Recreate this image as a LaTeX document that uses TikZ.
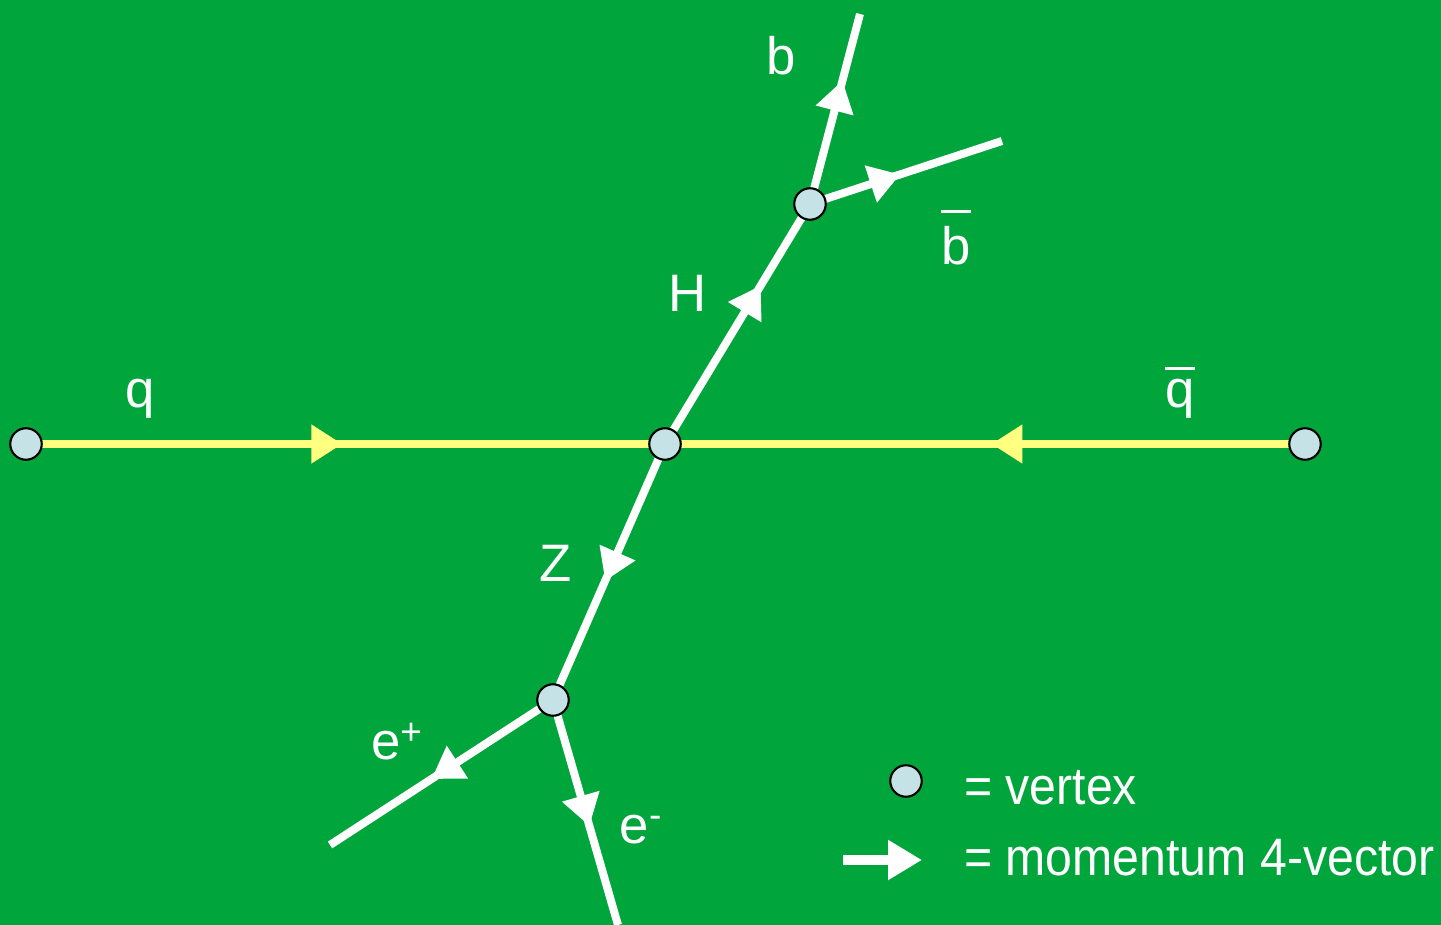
\documentclass[tikz,border=0pt]{standalone}
\usepackage{fontspec}
\setmainfont{Liberation Sans}
\usepackage{tikz}
\usetikzlibrary{arrows.meta,decorations.markings}
\definecolor{field}{HTML}{00A53C}
\definecolor{quark}{HTML}{FFFF80}
\definecolor{vtx}{HTML}{C5E3E6}
\pgfdeclarelayer{back}
\pgfdeclarelayer{lines}
\pgfsetlayers{back,lines,main}
\newcommand{\barred}[2][8pt]{\vbox{\hrule height 1.7pt\kern #1\hbox{#2}}}
\newcommand{\narrow}[1]{\scalebox{0.915}[1]{#1}}

\begin{document}
\begin{tikzpicture}[x=0.02cm,y=-0.02cm,
  every node/.style={text=white,font=\fontsize{30}{36}\selectfont},
  vertex/.style={circle,draw=black,line width=1.2pt,fill=vtx,minimum size=0.63cm,inner sep=0pt},
  tipmark/.style={postaction={decorate},decoration={markings,mark=at position #1 with {\arrow{Triangle[length=0.62cm,width=0.74cm]}}}},
  fermion/.style={white,line width=0.16cm},
  beam/.style={quark,line width=0.17cm}]
\begin{pgfonlayer}{back}
\fill[field] (0,0) rectangle (1441,925);
\end{pgfonlayer}
\useasboundingbox (0,0) rectangle (1441,925);
% vertices
\node[vertex] (qin) at (26,444) {};
\node[vertex] (hz) at (665,444) {};
\node[vertex] (qout) at (1305,444) {};
\node[vertex] (hvtx) at (810,204) {};
\node[vertex] (zvtx) at (553,700) {};
\coordinate (bend) at (860,14);
\coordinate (bbend) at (1002,141);
\coordinate (epend) at (330,845);
\coordinate (emend) at (618,925);
% lines
\begin{pgfonlayer}{lines}
\draw[beam,tipmark=0.495] (qin.center) -- (hz.center);
\draw[beam,tipmark=0.49] (qout.center) -- (hz.center);
\draw[fermion,tipmark=0.66] (hz.center) -- (hvtx.center);
\draw[fermion,tipmark=0.65] (hvtx.center) -- (bend);
\draw[fermion,tipmark=0.47] (hvtx.center) -- (bbend);
\draw[fermion,tipmark=0.535] (hz.center) -- (zvtx.center);
\draw[fermion,tipmark=0.545] (zvtx.center) -- (epend);
\draw[fermion,tipmark=0.56] (zvtx.center) -- (emend);
\end{pgfonlayer}
% labels
\node[anchor=base] (lb) at (781,75) {b};
\node[anchor=base] (lbb) at (956,265) {\barred{b}};
\node[anchor=base] (lh) at (688,312) {H};
\node[anchor=base] (lq) at (140,408) {q};
\node[anchor=base] (lqb) at (1180,408) {\barred[5.5pt]{q}};
\node[anchor=base] (lz) at (556,582) {Z};
\node[anchor=base] (lep) at (397,760) {e\textsuperscript{+}};
\node[anchor=base] (lem) at (641,843) {e\textsuperscript{-}};
% legend
\node[vertex] (key) at (906,781) {};
\node[anchor=base west] (keyv) at (958,805) {\narrow{= vertex}};
\coordinate (arra) at (843,860);
\coordinate (arrb) at (922,860);
\begin{pgfonlayer}{lines}
\draw[white,line width=0.2cm,-{Triangle[length=0.68cm,width=0.76cm]}] (arra) -- (arrb);
\end{pgfonlayer}
\node[anchor=base west] (keym) at (958,875) {\narrow{= momentum 4-vector}};
\end{tikzpicture}
\end{document}
